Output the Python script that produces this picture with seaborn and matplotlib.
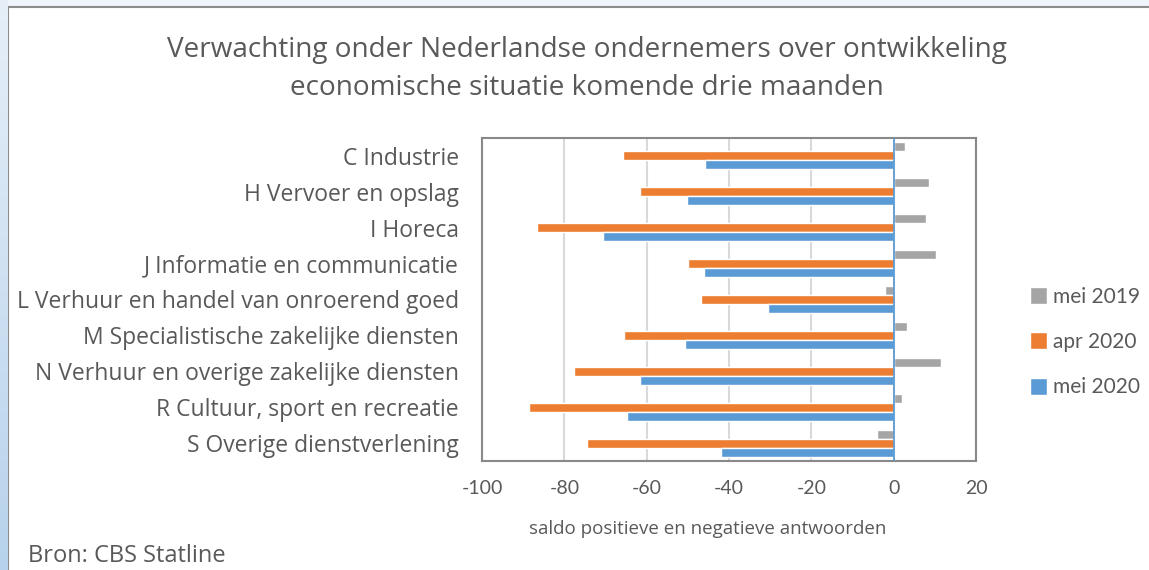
import numpy as np
import pandas as pd
import matplotlib.pyplot as plt
import seaborn as sns
from matplotlib.patches import Rectangle

# =====================================================
# DATA
# =====================================================

sectors = [
    "C Industrie",
    "H Vervoer en opslag",
    "I Horeca",
    "J Informatie en communicatie",
    "L Verhuur en handel van onroerend goed",
    "M Specialistische zakelijke diensten",
    "N Verhuur en overige zakelijke diensten",
    "R Cultuur, sport en recreatie",
    "S Overige dienstverlening",
]

periods = ["mei 2019", "apr 2020", "mei 2020"]

mei_2019 = [2.7, 8.5, 7.8, 10.2, -2.2, 3.3, 11.5, 2.0, -4.0]
apr_2020 = [-65.7, -61.5, -86.6, -50.0, -46.9, -65.4, -77.6, -88.7, -74.5]
mei_2020 = [-45.9, -50.2, -70.6, -46.0, -30.6, -50.6, -61.5, -64.7, -41.9]

colors = ["#A5A5A5", "#ED7D31", "#5B9BD5"]

df = pd.DataFrame({
    "sector": sectors * 3,
    "periode": np.repeat(periods, len(sectors)),
    "saldo": mei_2019 + apr_2020 + mei_2020,
})

# =====================================================
# STYLE
# =====================================================

sns.set_style("white")
plt.rcParams["font.family"] = ["Open Sans", "DejaVu Sans"]
plt.rcParams["axes.unicode_minus"] = False
text_col = "#595959"

W, H = 1149, 570
fig = plt.figure(figsize=(W / 100, H / 100), dpi=100)
fig.patch.set_facecolor("#eef4fa")

# left blue gradient strip
strip = fig.add_axes([0, 0, 8 / W, 1])
grad = np.linspace(0, 1, 256).reshape(-1, 1)
strip.imshow(grad, aspect="auto", cmap=sns.blend_palette(["#e6eff8", "#b7d2ec"], as_cmap=True),
             extent=[0, 1, 0, 1], origin="upper")
strip.axis("off")

# white card with gray frame
fig.patches.append(Rectangle((8 / W, -0.05), 1.1, 1 - 7 / H + 0.05,
                             transform=fig.transFigure, facecolor="white",
                             edgecolor="#8c8c8c", linewidth=1.5, zorder=-5))

ax = fig.add_axes([482 / W, 1 - 461 / H, 494 / W, 323 / H])
ax.set_zorder(2)

sns.barplot(
    data=df,
    x="saldo",
    y="sector",
    hue="periode",
    hue_order=periods,
    palette=colors,
    width=0.75,
    orient="h",
    saturation=1,
    ax=ax,
    legend=True,
)

ax.set_xlim(-100, 20)
ax.set_xticks(range(-100, 21, 20))
ax.grid(axis="x", color="#D9D9D9", linewidth=1.5)
ax.set_axisbelow(True)
ax.axvline(0, color="#5B9BD5", linewidth=1.3, zorder=3)

for s in ax.spines.values():
    s.set_visible(True)
    s.set_color("#898989")
    s.set_linewidth(1.5)

ax.tick_params(axis="y", length=0, pad=16.5, labelsize=16.5, labelcolor=text_col)
ax.tick_params(axis="x", length=0, pad=14, labelsize=14, labelcolor=text_col)
for lab in ax.get_xticklabels():
    lab.set_fontfamily("Lato")
ax.set_xlabel("")
ax.set_ylabel("")

# legend
handles, labels = ax.get_legend_handles_labels()
ax.legend(
    handles, labels,
    loc="center left",
    bbox_to_anchor=(1011 / W, 1 - 342 / H),
    bbox_transform=fig.transFigure,
    frameon=False,
    prop={"family": "Lato", "size": 15},
    labelcolor=text_col,
    handlelength=0.85,
    handleheight=0.85,
    handletextpad=0.25,
    labelspacing=1.22,
)

# titles and notes
fig.text(587 / W, 1 - 50 / H, "Verwachting onder Nederlandse ondernemers over ontwikkeling",
         ha="center", va="center", fontsize=20.1, color=text_col)
fig.text(587 / W, 1 - 88 / H, "economische situatie komende drie maanden",
         ha="center", va="center", fontsize=20.1, color=text_col)
fig.text(708 / W, 1 - 529 / H, "saldo positieve en negatieve antwoorden",
         ha="center", va="center", fontsize=13.5, color=text_col)
fig.text(28 / W, 1 - 556 / H, "Bron: CBS Statline",
         ha="left", va="center", fontsize=17, color=text_col)

fig.savefig("out.png", dpi=100)
